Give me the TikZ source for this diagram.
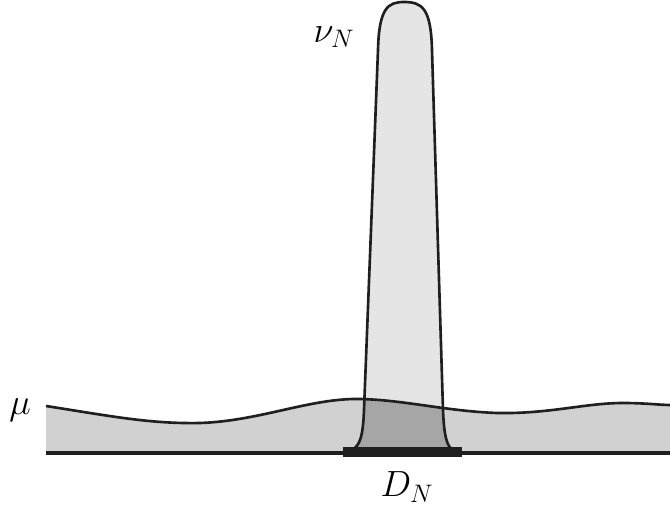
\documentclass[tikz,border=0pt]{standalone}
\usepackage{tikz}

% outlines in pixel units of the sketch (y grows downwards)
\newcommand{\muTop}{(46,406) .. controls (110,416) and (150,424) .. (200,423)
  .. controls (260,421) and (310,398) .. (360,399)
  .. controls (405,400) and (445,411) .. (497,413)
  .. controls (550,414) and (585,403) .. (623,403)
  .. controls (645,403) and (660,405) .. (670,405)}
\newcommand{\nuShape}{(351,450) .. controls (360,447) and (363,436) .. (364,410)
  -- (378,50) .. controls (379,8) and (388,2) .. (404,2)
  .. controls (422,2) and (431,8) .. (432,50)
  -- (443,410) .. controls (444,436) and (447,447) .. (453,450) -- cycle}

\begin{document}
\begin{tikzpicture}[
  x=0.02cm, y=-0.02cm,
  font=\huge,
  line join=round,
  ink/.style={draw=black!88, line width=1.5pt},
  mufill/.style={fill=black!18},
  nufill/.style={fill=black!10},
  both/.style={fill=black!35},
  label/.style={inner sep=1pt}
]
\useasboundingbox (0,0) rectangle (670,507);

% measure mu
\fill[mufill] \muTop -- (670,453) -- (46,453) -- cycle;

% measure nu_N and its overlap with mu
\fill[nufill] \nuShape;
\begin{scope}
  \clip \muTop -- (670,453) -- (46,453) -- cycle;
  \fill[both] \nuShape;
\end{scope}

% outlines
\draw[ink] \muTop;
\draw[ink] \nuShape;
\draw[ink, line width=1.8pt] (46,453) -- (670,453);

% the set D_N
\draw[black!88, line width=0.2cm] (343,452) -- (462,452);

% labels
\node[label] (mu) at (20,410) {$\mu$};
\node[label] (nu) at (334,37) {$\nu_N$};
\node[label] (dn) at (407,487) {$D_N$};

\end{tikzpicture}
\end{document}
